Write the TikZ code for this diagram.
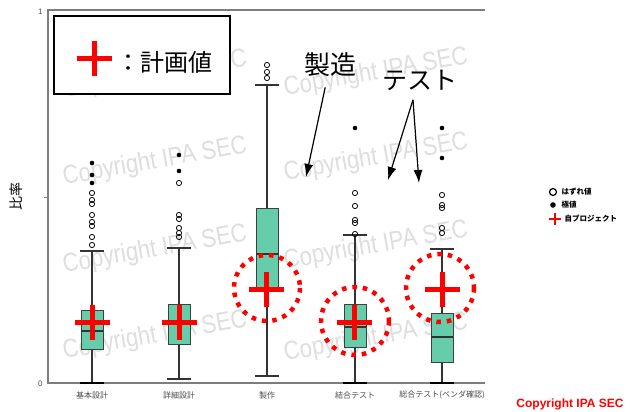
\documentclass[tikz,border=0pt]{standalone}
\usepackage{fontspec}
\setmainfont{Liberation Sans}
\newfontfamily\jp{Noto Sans CJK JP}
\usepackage{tikz}
\usetikzlibrary{calc,arrows.meta,positioning}
\definecolor{boxgreen}{RGB}{102,205,170}
\definecolor{planred}{RGB}{255,0,0}
\definecolor{wmgray}{RGB}{222,222,222}
\definecolor{axisgray}{RGB}{125,125,125}
\tikzset{
    whisker/.style={draw=black!80, line width=1.1pt},
    low cap/.style={draw=black, line width=2.6pt},
    box body/.style={draw=black!75, fill=boxgreen, line width=1pt},
    outlier/.style={draw=black, line width=0.8pt},
    extreme/.style={fill=black},
    plan line/.style={draw=planred, line width=5pt},
    dotted ring/.style={draw=planred, line width=4.5pt, dash pattern=on 4.5pt off 6pt},
    pointer/.style={draw=black, line width=1.2pt, -{Latex[length=13pt,width=9pt]}},
    watermark/.style={text=wmgray, font=\fontsize{26}{26}\selectfont, rotate=10, xscale=0.85},
    cat label/.style={text=black!70, font=\jp\fontsize{8}{8}\selectfont},
    box plot/.pic={
            \tikzset{/boxplot/.cd, #1}
            \draw [whisker] (0,\boxlow) -- (0,\boxup);
            \draw [whisker] (-12,\boxup) -- (12,\boxup);
            \draw [\boxcap] (-12,\boxlow) -- (12,\boxlow);
            \draw [box body] (-11,\boxqone) rectangle (11,\boxqthree);
            \draw [whisker] (-11,\boxmed) -- (11,\boxmed);
        },
    plan cross/.pic={
            \draw [plan line] (-17.5,0) -- (17.5,0) (0,-17.5) -- (0,17.5);
        },
    /boxplot/.cd,
    low/.store in=\boxlow,
    q1/.store in=\boxqone,
    median/.store in=\boxmed,
    q3/.store in=\boxqthree,
    up/.store in=\boxup,
    cap/.store in=\boxcap,
    low=383, q1=340, median=330, q3=310, up=250, cap=low cap,
}

\begin{document}
\begin{tikzpicture}[x=1pt,y=-1pt]
            \useasboundingbox [fill=white] (0,0) rectangle (630,412);
            % watermarks
            \foreach \wx/\wy [count=\i] in {155/75,155/162,155/250,155/336,376/73,376/158,376/246,376/338}
                \node [watermark] (wm\i) at (\wx,\wy) {Copyright IPA SEC};
            % axes
            \draw [axisgray, line width=2pt] (485,10) -- (48,10) -- (48,383) -- (485,383);
            \draw [axisgray, line width=1pt] (44,197) -- (48,197);
            \node [text=black!70, font=\fontsize{8}{8}\selectfont, left] (tick one) at (46,12) {1};
            \node [text=black!70, font=\fontsize{8}{8}\selectfont, left] (tick zero) at (46,384) {0};
            \node [font=\jp\fontsize{14}{14}\selectfont, rotate=90] (ylab) at (16,196) {比率};
            % boxes
            \pic at (92,0) {box plot={q1=349, median=331, q3=310, up=251}};
            \pic at (179,0) {box plot={low=379, q1=344, median=322, q3=304, up=248, cap=whisker}};
            \pic at (267,0) {box plot={low=376, q1=289, median=254, q3=208, up=85, cap=whisker}};
            \pic at (355,0) {box plot={q1=347, median=327, q3=304, up=235}};
            \pic at (442,0) {box plot={q1=362, median=337, q3=313, up=249}};
            % outliers
            \foreach \y in {193,200,204,215,222,226,237,245} \draw [outlier] (92,\y) circle (2.6);
            \foreach \y in {163,175,183} \fill [extreme] (92,\y) circle (2.3);
            \foreach \y in {183,215,219,228,233,237} \draw [outlier] (179,\y) circle (2.6);
            \foreach \y in {155,171} \fill [extreme] (179,\y) circle (2.3);
            \foreach \y in {65,72,78} \draw [outlier] (267,\y) circle (2.6);
            \foreach \y in {193,206,220,223,234} \draw [outlier] (355,\y) circle (2.6);
            \fill [extreme] (355,128) circle (2.3);
            \foreach \y in {195,205,208,228,233} \draw [outlier] (442,\y) circle (2.6);
            \foreach \y in {128,158} \fill [extreme] (442,\y) circle (2.3);
            % plan values
            \pic at (92,322) {plan cross};
            \pic at (179,322) {plan cross};
            \pic at (266,289) {plan cross};
            \pic at (354,322) {plan cross};
            \pic at (442,289) {plan cross};
            \draw [dotted ring] (267,288) circle (33);
            \draw [dotted ring] (355,321) circle (34);
            \draw [dotted ring] (440,288) circle (34);
            % category labels
            \node [cat label] (cat1) at (92,395) {基本設計};
            \node [cat label] (cat2) at (179,395) {詳細設計};
            \node [cat label] (cat3) at (267,395) {製作};
            \node [cat label] (cat4) at (355,395) {結合テスト};
            \node [cat label] (cat5) at (442,395) {総合テスト(ベンダ確認)};
            % key
            \node [draw, line width=1.3pt, fill=white, minimum width=176pt, minimum height=78pt] (key) at (142,55) {};
            \pic at (94,59) {plan cross};
            \node [font=\jp\fontsize{24}{24}\selectfont] (key text) at (164,62) {：計画値};
            % legend
            \draw [outlier, line width=1.2pt] (553,192) circle (3.5);
            \node [anchor=west, font=\jp\bfseries\fontsize{7.5}{7.5}\selectfont] (leg out) at (558,192) {はずれ値};
            \fill [extreme] (553,205) circle (2.8);
            \node [anchor=west, font=\jp\bfseries\fontsize{7.5}{7.5}\selectfont] (leg ext) at (558,205) {極値};
            \draw [planred, line width=2pt] (549,219) -- (561,219) (555,213) -- (555,225);
            \node [anchor=west, font=\jp\bfseries\fontsize{7.5}{7.5}\selectfont] (leg own) at (561,219) {自プロジェクト};
            % phase labels and arrows
            \node [font=\jp\fontsize{26}{26}\selectfont] (seizo) at (330,65) {製造};
            \coordinate (seizo end) at (306,177);
            \draw [pointer, shorten <=7pt] (seizo) -- (seizo end);
            \node [font=\jp\fontsize{25}{25}\selectfont] (test) at (420,80) {テスト};
            \coordinate (test end a) at (388,180);
            \coordinate (test end b) at (419,183);
            \draw [pointer] ([xshift=-7pt,yshift=-6pt]test.south) -- (test end a);
            \draw [pointer] ([xshift=-7pt,yshift=-6pt]test.south) -- (test end b);
            % copyright
            \node [text=planred, font=\bfseries\fontsize{12}{12}\selectfont] (copy) at (570,404) {Copyright IPA SEC};
        \end{tikzpicture}
\end{document}
